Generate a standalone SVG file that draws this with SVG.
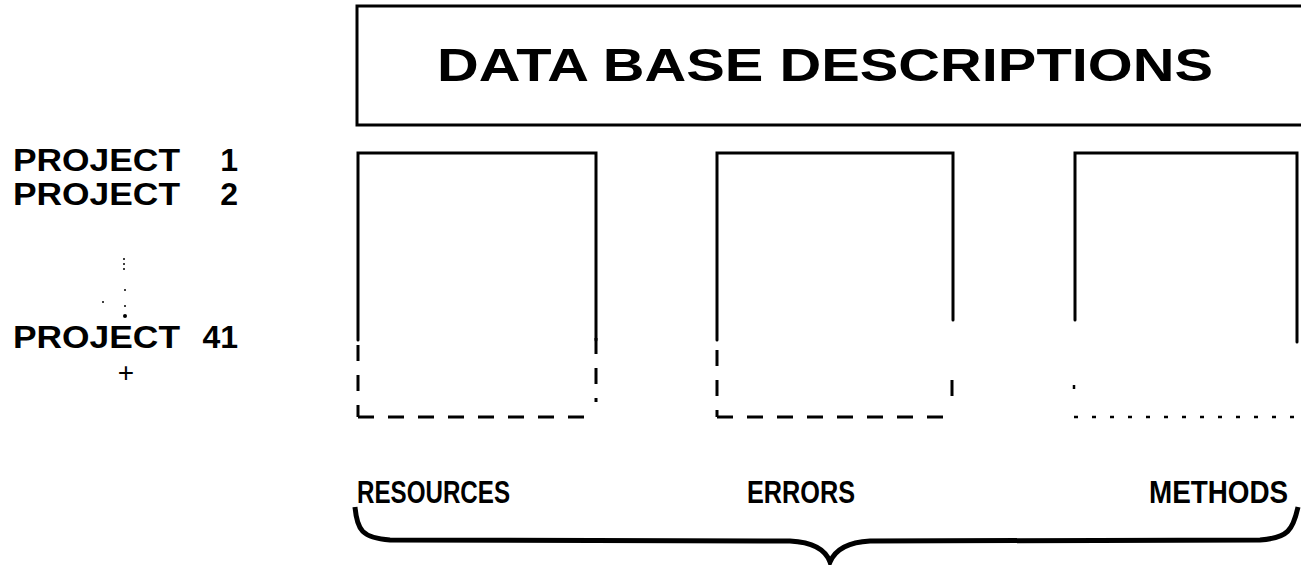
<svg xmlns="http://www.w3.org/2000/svg" width="1301" height="565" viewBox="0 0 1301 565">
<style>
.ln{fill:none;stroke:#000;stroke-width:3;stroke-linecap:round}
.ds{fill:none;stroke:#000;stroke-width:3;stroke-dasharray:16 14}
.dt{fill:none;stroke:#000;stroke-width:2.5;stroke-dasharray:4 14}
.t{font-family:"Liberation Sans",Arial,sans-serif;font-weight:bold;fill:#000}
.p{font-family:"Liberation Sans",Arial,sans-serif;font-weight:bold;font-size:32px;fill:#000}
</style>
<rect width="1301" height="565" fill="#fff"/>
<g id="header">
<path class="ln" d="M1301 6 H357 V125 H1301"/>
<text class="t" x="437" y="81" font-size="47" textLength="776" lengthAdjust="spacingAndGlyphs">DATA BASE DESCRIPTIONS</text>
</g>
<g id="projects">
<text class="p" x="13" y="171"><tspan textLength="167" lengthAdjust="spacingAndGlyphs">PROJECT</tspan> <tspan x="238" text-anchor="end">1</tspan></text>
<text class="p" x="13" y="205"><tspan textLength="167" lengthAdjust="spacingAndGlyphs">PROJECT</tspan> <tspan x="238" text-anchor="end">2</tspan></text>
<g fill="#000"><circle cx="124" cy="259" r="1"/><circle cx="124" cy="264" r="1"/><circle cx="124" cy="269" r="1"/><circle cx="125" cy="290" r="1"/><circle cx="103" cy="302" r="1"/><circle cx="125" cy="306" r="1"/><circle cx="125" cy="316" r="2"/></g>
<text class="p" x="13" y="348"><tspan textLength="167" lengthAdjust="spacingAndGlyphs">PROJECT</tspan> <tspan x="238" text-anchor="end">41</tspan></text>
<text x="126" y="382" font-family="Liberation Sans,Arial,sans-serif" font-size="28" text-anchor="middle">+</text>
</g>
<g id="resources">
<path class="ln" d="M358 340 V153 H596 V340"/>
<path class="ds" d="M358 345 V417" stroke-dasharray="14 12"/>
<path class="ds" d="M596 338 V402" stroke-dasharray="24 12"/>
<path class="ds" d="M358 417 H597" stroke-dasharray="22 15"/>
<text class="t" x="357" y="503" font-size="32" textLength="153" lengthAdjust="spacingAndGlyphs">RESOURCES</text>
</g>
<g id="errors">
<path class="ln" d="M717 340 V153 H953 V320"/>
<path class="ds" d="M717 350 V417" stroke-dasharray="24 12"/>
<path class="ds" d="M952 380 V402"/>
<path class="ds" d="M717 417 H955" stroke-dasharray="22 15"/>
<text class="t" x="747" y="503" font-size="32" textLength="108" lengthAdjust="spacingAndGlyphs">ERRORS</text>
</g>
<g id="methods">
<path class="ln" d="M1075 320 V153 H1297 V342"/>
<path class="dt" d="M1074 385 V395"/>
<path class="dt" d="M1074 417 H1300" stroke-dasharray="10 22"/>
<text class="t" x="0" y="0" font-size="32" transform="translate(1149 503) scale(0.87 1)">METHODS</text>
</g>
<g id="connectors">
<path d="M355 507 C357 530 362 538 390 540 L790 541 C810 542 825 548 830 562 C836 548 850 542 870 541 L1260 540 C1288 538 1293 530 1298 507" fill="none" stroke="#000" stroke-width="5"/>
</g>
</svg>
